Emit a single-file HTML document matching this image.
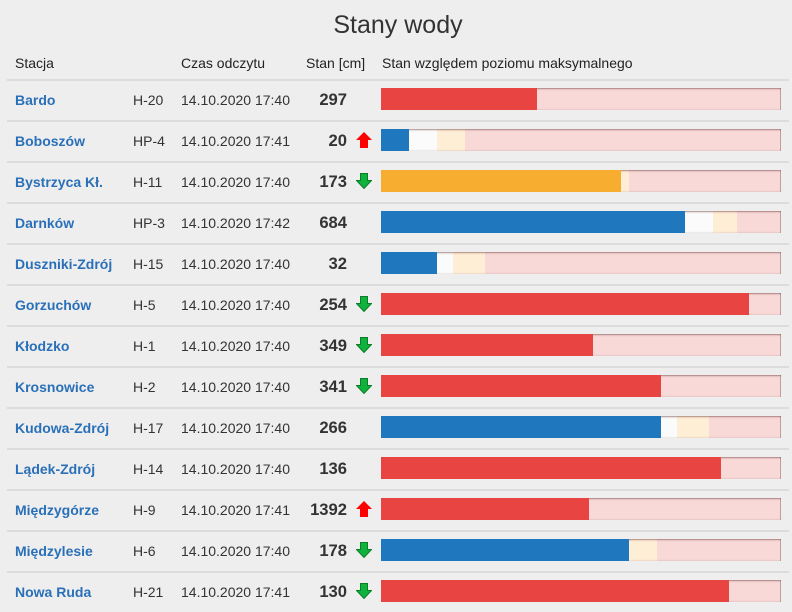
<!DOCTYPE html>
<html><head><meta charset="utf-8">
<style>
html,body{margin:0;padding:0;}
body{width:792px;height:603px;background:#eeeeee;position:relative;overflow:hidden;font-family:"Liberation Sans",Arial,sans-serif;color:#333;}
.title{position:absolute;left:0;width:796px;top:10px;text-align:center;font-size:25px;color:#333;line-height:30px;}
.h{position:absolute;top:53px;font-size:14px;line-height:20px;color:#222;}
.sep{position:absolute;left:7px;width:782px;height:1.5px;background:#dcdcdc;}
.row{position:absolute;left:0;width:792px;height:40px;line-height:40px;font-size:14px;}
.row .n{position:absolute;left:15px;font-weight:bold;color:#2a70b8;}
.row .c{position:absolute;left:133px;color:#333;}
.row .d{position:absolute;left:181px;color:#333;}
.row .v{position:absolute;right:445px;font-weight:bold;font-size:16.6px;color:#333;}
.row svg{position:absolute;left:356px;top:11px;}
.bar{position:absolute;left:381px;top:8px;width:400px;height:22px;background:#f9d9d8;overflow:hidden;}
.bar .s{position:absolute;top:0;height:22px;}
.bar .sh{position:absolute;left:0;top:0;width:400px;height:22px;box-shadow:inset 0 1px 0 rgba(110,60,60,0.35),inset 0 2px 1px rgba(110,60,60,0.15),inset -1px 0 0 rgba(110,60,60,0.35),inset 0 -1px 1px rgba(110,60,60,0.1);}
.bar .f{position:absolute;left:0;top:0;height:22px;}
.W{background:#fbfbfb;} .C{background:#feeed5;}
.R{background:#e84441;} .B{background:#1f77bd;} .O{background:#f7ad2f;}
</style></head><body>
<div class="title">Stany wody</div>
<div class="h" style="left:15px">Stacja</div>
<div class="h" style="left:181px">Czas odczytu</div>
<div class="h" style="left:306px">Stan [cm]</div>
<div class="h" style="left:382px">Stan względem poziomu maksymalnego</div>

<div class="sep" style="top:79px"></div>
<div class="sep" style="top:120px"></div>
<div class="sep" style="top:161px"></div>
<div class="sep" style="top:202px"></div>
<div class="sep" style="top:243px"></div>
<div class="sep" style="top:284px"></div>
<div class="sep" style="top:325px"></div>
<div class="sep" style="top:366px"></div>
<div class="sep" style="top:407px"></div>
<div class="sep" style="top:448px"></div>
<div class="sep" style="top:489px"></div>
<div class="sep" style="top:530px"></div>
<div class="sep" style="top:571px"></div>

<div class="row" style="top:80px">
<span class="n">Bardo</span><span class="c">H-20</span><span class="d">14.10.2020 17:40</span><span class="v">297</span>
<div class="bar"><div class="sh"></div><div class="f R" style="width:156px"></div></div>
</div>
<div class="row" style="top:121px">
<span class="n">Boboszów</span><span class="c">HP-4</span><span class="d">14.10.2020 17:41</span><span class="v">20</span>
<svg width="16" height="16" viewBox="0 0 16 16"><polygon points="8,0 16,8 12,8 12,16 4,16 4,8 0,8" fill="#ff0000"/></svg>
<div class="bar"><div class="s W" style="left:28px;width:28px"></div><div class="s C" style="left:56px;width:28px"></div><div class="sh"></div><div class="f B" style="width:28px"></div></div>
</div>
<div class="row" style="top:162px">
<span class="n">Bystrzyca Kł.</span><span class="c">H-11</span><span class="d">14.10.2020 17:40</span><span class="v">173</span>
<svg width="16" height="16" viewBox="0 0 16 16"><polygon points="4.5,0.5 11.5,0.5 11.5,7.5 15.5,7.5 8,15.5 0.5,7.5 4.5,7.5" fill="#10b23e" stroke="#0a7d27" stroke-width="1"/></svg>
<div class="bar"><div class="s C" style="left:240px;width:8px"></div><div class="sh"></div><div class="f O" style="width:240px"></div></div>
</div>
<div class="row" style="top:203px">
<span class="n">Darnków</span><span class="c">HP-3</span><span class="d">14.10.2020 17:42</span><span class="v">684</span>
<div class="bar"><div class="s W" style="left:304px;width:28px"></div><div class="s C" style="left:332px;width:24px"></div><div class="sh"></div><div class="f B" style="width:304px"></div></div>
</div>
<div class="row" style="top:244px">
<span class="n">Duszniki-Zdrój</span><span class="c">H-15</span><span class="d">14.10.2020 17:40</span><span class="v">32</span>
<div class="bar"><div class="s W" style="left:56px;width:16px"></div><div class="s C" style="left:72px;width:32px"></div><div class="sh"></div><div class="f B" style="width:56px"></div></div>
</div>
<div class="row" style="top:285px">
<span class="n">Gorzuchów</span><span class="c">H-5</span><span class="d">14.10.2020 17:40</span><span class="v">254</span>
<svg width="16" height="16" viewBox="0 0 16 16"><polygon points="4.5,0.5 11.5,0.5 11.5,7.5 15.5,7.5 8,15.5 0.5,7.5 4.5,7.5" fill="#10b23e" stroke="#0a7d27" stroke-width="1"/></svg>
<div class="bar"><div class="sh"></div><div class="f R" style="width:368px"></div></div>
</div>
<div class="row" style="top:326px">
<span class="n">Kłodzko</span><span class="c">H-1</span><span class="d">14.10.2020 17:40</span><span class="v">349</span>
<svg width="16" height="16" viewBox="0 0 16 16"><polygon points="4.5,0.5 11.5,0.5 11.5,7.5 15.5,7.5 8,15.5 0.5,7.5 4.5,7.5" fill="#10b23e" stroke="#0a7d27" stroke-width="1"/></svg>
<div class="bar"><div class="sh"></div><div class="f R" style="width:212px"></div></div>
</div>
<div class="row" style="top:367px">
<span class="n">Krosnowice</span><span class="c">H-2</span><span class="d">14.10.2020 17:40</span><span class="v">341</span>
<svg width="16" height="16" viewBox="0 0 16 16"><polygon points="4.5,0.5 11.5,0.5 11.5,7.5 15.5,7.5 8,15.5 0.5,7.5 4.5,7.5" fill="#10b23e" stroke="#0a7d27" stroke-width="1"/></svg>
<div class="bar"><div class="sh"></div><div class="f R" style="width:280px"></div></div>
</div>
<div class="row" style="top:408px">
<span class="n">Kudowa-Zdrój</span><span class="c">H-17</span><span class="d">14.10.2020 17:40</span><span class="v">266</span>
<div class="bar"><div class="s W" style="left:280px;width:16px"></div><div class="s C" style="left:296px;width:32px"></div><div class="sh"></div><div class="f B" style="width:280px"></div></div>
</div>
<div class="row" style="top:449px">
<span class="n">Lądek-Zdrój</span><span class="c">H-14</span><span class="d">14.10.2020 17:40</span><span class="v">136</span>
<div class="bar"><div class="sh"></div><div class="f R" style="width:340px"></div></div>
</div>
<div class="row" style="top:490px">
<span class="n">Międzygórze</span><span class="c">H-9</span><span class="d">14.10.2020 17:41</span><span class="v">1392</span>
<svg width="16" height="16" viewBox="0 0 16 16"><polygon points="8,0 16,8 12,8 12,16 4,16 4,8 0,8" fill="#ff0000"/></svg>
<div class="bar"><div class="sh"></div><div class="f R" style="width:208px"></div></div>
</div>
<div class="row" style="top:531px">
<span class="n">Międzylesie</span><span class="c">H-6</span><span class="d">14.10.2020 17:40</span><span class="v">178</span>
<svg width="16" height="16" viewBox="0 0 16 16"><polygon points="4.5,0.5 11.5,0.5 11.5,7.5 15.5,7.5 8,15.5 0.5,7.5 4.5,7.5" fill="#10b23e" stroke="#0a7d27" stroke-width="1"/></svg>
<div class="bar"><div class="s C" style="left:248px;width:28px"></div><div class="sh"></div><div class="f B" style="width:248px"></div></div>
</div>
<div class="row" style="top:572px">
<span class="n">Nowa Ruda</span><span class="c">H-21</span><span class="d">14.10.2020 17:41</span><span class="v">130</span>
<svg width="16" height="16" viewBox="0 0 16 16"><polygon points="4.5,0.5 11.5,0.5 11.5,7.5 15.5,7.5 8,15.5 0.5,7.5 4.5,7.5" fill="#10b23e" stroke="#0a7d27" stroke-width="1"/></svg>
<div class="bar"><div class="sh"></div><div class="f R" style="width:348px"></div></div>
</div>
</body></html>
